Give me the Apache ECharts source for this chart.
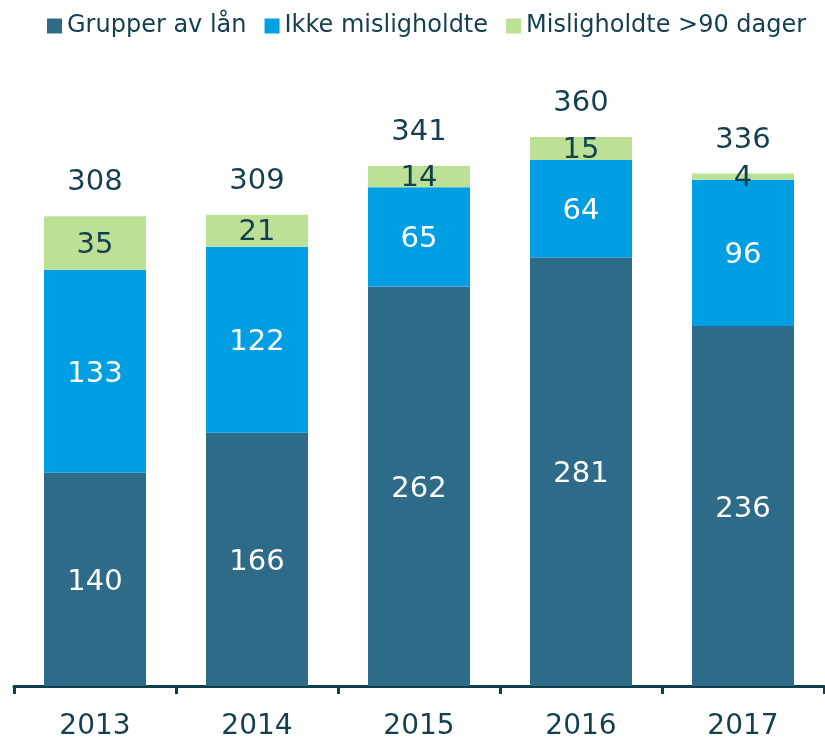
<!DOCTYPE html>
<html><head><meta charset="utf-8">
<script src="https://cdn.jsdelivr.net/npm/echarts@6/dist/echarts.min.js"></script>
<style>html,body{margin:0;padding:0;background:#fff}#c{width:825px;height:741px}</style>
</head><body><div id="c"></div>
<script>
const categories = ['2013','2014','2015','2016','2017'];
const grupper = [140,166,262,281,236];
const ikke = [133,122,65,64,96];
const mislig = [35,21,14,15,4];
const totals = [308,309,341,360,336];
const seriesNames = ['Grupper av lån','Ikke misligholdte','Misligholdte >90 dager'];

const font = 'DejaVu Sans, Verdana, sans-serif';
const dark = '#133F4E';
const lblSize = 29;
const chart = echarts.init(document.getElementById('c'));
chart.setOption({
  animation:false,
  textStyle:{fontFamily:font},
  legend:{
    top:9, left:42, itemWidth:15, itemHeight:15, itemGap:18,
    icon:'rect',
    textStyle:{fontSize:24, color:dark, fontFamily:font},
    data:seriesNames
  },
  grid:{left:14, right:1, top:76, bottom:54, containLabel:false},
  xAxis:{
    type:'category', data:categories,
    axisLine:{lineStyle:{color:'#0F3E4D', width:3}},
    axisTick:{show:true, length:8, lineStyle:{color:'#0F3E4D', width:3}},
    axisLabel:{fontSize:28, color:dark, margin:27, fontFamily:font}
  },
  yAxis:{type:'value', min:0, max:400, show:false, splitLine:{show:false}},
  series:[
    {name:seriesNames[0], type:'bar', stack:'s', data:grupper, barWidth:102,
     itemStyle:{color:'#2E6B88'},
     label:{show:true, position:'inside', offset:[0,3], color:'#fff', fontSize:lblSize, fontFamily:font}},
    {name:seriesNames[1], type:'bar', stack:'s', data:ikke,
     itemStyle:{color:'#009FE3'},
     label:{show:true, position:'inside', offset:[0,3], color:'#fff', fontSize:lblSize, fontFamily:font}},
    {name:seriesNames[2], type:'bar', stack:'s', data:mislig,
     itemStyle:{color:'#BDE097'},
     label:{show:true, position:'inside', offset:[0,2], color:dark, fontSize:lblSize, fontFamily:font}},
    {name:'total', type:'bar', stack:'s', data:totals.map(()=>0),
     itemStyle:{color:'transparent'},
     label:{show:true, position:'top', distance:19, color:dark, fontSize:lblSize, fontFamily:font,
       formatter:p=>totals[p.dataIndex]}}
  ]
});
</script></body></html>
